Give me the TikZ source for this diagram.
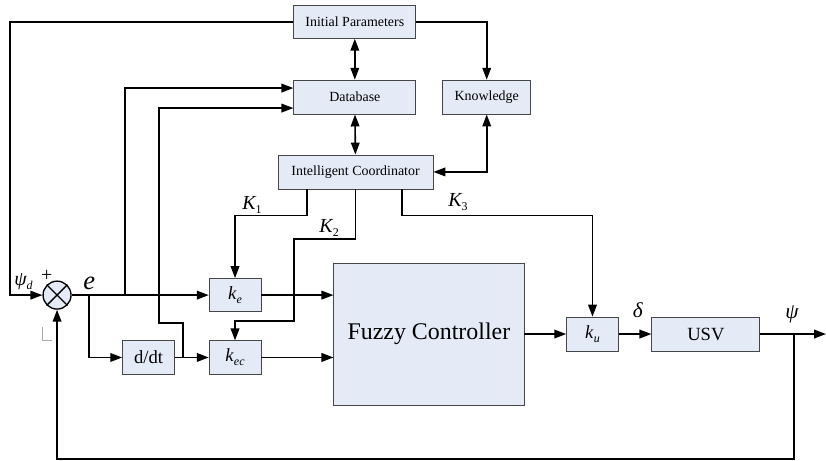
\documentclass[tikz,border=0pt]{standalone}
\usepackage{fontspec}
\setmainfont{Liberation Serif}
\usepackage{tikz}
\usetikzlibrary{arrows.meta,positioning,calc}
\definecolor{boxFill}{RGB}{228,235,246}
\definecolor{boxLine}{RGB}{70,70,70}
\definecolor{markGray}{RGB}{170,170,170}
\newcommand{\lowsub}[1]{\raisebox{-0.45ex}{\fontsize{9}{10}\selectfont #1}}

\begin{document}
\begin{tikzpicture}[
  blk/.style={rectangle,draw=boxLine,line width=0.6pt,fill=boxFill,
              inner sep=0pt,align=center,font=\fontsize{10.5}{12}\selectfont},
  gainblk/.style={blk,minimum width=1.37cm,minimum height=0.88cm,
                  font=\fontsize{14}{16}\selectfont},
  sumnode/.style={circle,draw=black,line width=1pt,fill=boxFill,
                  minimum size=0.74cm,inner sep=0pt},
  sig/.style={font=\fontsize{15}{17}\selectfont\itshape,inner sep=0pt},
  arrow/.style={-{Triangle[length=9pt,width=6.5pt]},line width=1.2pt},
  dblarrow/.style={{Triangle[length=9pt,width=6.5pt]}-{Triangle[length=9pt,width=6.5pt]},line width=1.2pt}
]
  \useasboundingbox (0,0) rectangle (21.86,-12.20);

  % supervisory level
  \node[blk,minimum width=3.23cm,minimum height=0.87cm](ip) at (9.39,-0.58) {Initial Parameters};
  \node[blk,minimum width=3.23cm,minimum height=0.90cm](db) at (9.39,-2.57) {Database};
  \node[blk,minimum width=2.33cm,minimum height=0.90cm,right=0.69cm of db](kn) {Knowledge};
  \node[blk,minimum width=4.10cm,minimum height=0.90cm](ic) at (9.41,-4.55) {Intelligent Coordinator};

  % control loop
  \node[sumnode](sum) at (1.51,-7.81) {};
  \draw[line width=1pt] (sum.north west) -- (sum.south east) (sum.north east) -- (sum.south west);
  \node[gainblk](ke) at (6.22,-7.81) {\textit{k}\lowsub{\textit{e}}};
  \node[gainblk](dt) at (3.93,-9.46) {d/dt};
  \node[gainblk](kec) at (6.22,-9.46) {\textit{k}\lowsub{\textit{ec}}};
  \node[blk,minimum width=5.03cm,minimum height=3.76cm,font=\fontsize{18}{20}\selectfont](fc) at (11.35,-8.84) {Fuzzy Controller};
  \node[gainblk,minimum height=0.90cm](ku) at (15.68,-8.84) {\textit{k}\lowsub{\textit{u}}};
  \node[blk,minimum width=2.86cm,minimum height=0.90cm,font=\fontsize{14}{16}\selectfont](usv) at (18.68,-8.84) {USV};

  % taps and turning points
  \coordinate (tapD) at (2.35,-7.81);
  \coordinate (tapE) at (3.31,-7.81);
  \coordinate (tapDt) at (4.84,-9.46);
  \coordinate (tapY) at (21.01,-8.84);
  \coordinate (out) at (21.86,-8.84);

  % supervisory links
  \draw[arrow] (ip.west) -| ([xshift=-0.85cm]sum.west) -- (sum.west);
  \draw[arrow] (ip.east) -| (kn.north);
  \draw[dblarrow] (ip) -- (db);
  \draw[dblarrow] (db) -- (ic);
  \draw[dblarrow] (ic.east) -| (kn.south);
  \draw[arrow] (tapE) |- ([yshift=0.24cm]db.west);
  \draw[arrow] (tapDt) |- (4.21,-8.55) |- ([yshift=-0.29cm]db.west);

  % scaling factors from the coordinator
  \draw[arrow] ([xshift=-1.29cm]ic.south) -- ++(0,-0.69) -| (ke.north);
  \draw[arrow] (ic.south) -- ++(0,-1.32) -| (7.78,-8.49) -| (kec.north);
  \draw[arrow] ([xshift=1.23cm]ic.south) -- ++(0,-0.69) -| (ku.north);

  % forward path
  \draw[arrow] (sum.east) -- (ke.west);
  \draw[arrow] (tapD) |- (dt.west);
  \draw[arrow] (dt.east) -- (kec.west);
  \draw[arrow] (ke.east) -- (ke.east -| fc.west);
  \draw[arrow] (kec.east) -- (kec.east -| fc.west);
  \draw[arrow] (fc.east) -- (ku.west);
  \draw[arrow] (ku.east) -- (usv.west);
  \draw[arrow] (usv.east) -- (out);
  \draw[arrow] (tapY) -- ++(0,-3.31) -| (sum.south);

  % signal labels
  \node[sig] at (0.62,-7.46) {ψ\lowsub{\textit{d}}};
  \node[sig,font=\fontsize{15}{17}\selectfont] at (1.24,-7.30) {+};
  \node[sig,font=\fontsize{20}{22}\selectfont\itshape] at (2.36,-7.50) {e};
  \node[sig] at (6.67,-5.42) {K\lowsub{\upshape 1}};
  \node[sig] at (8.71,-6.03) {K\lowsub{\upshape 2}};
  \node[sig] at (12.12,-5.35) {K\lowsub{\upshape 3}};
  \node[sig,font=\fontsize{16}{18}\selectfont\itshape] at (16.88,-8.20) {δ};
  \node[sig,font=\fontsize{16}{18}\selectfont\itshape] at (20.96,-8.31) {ψ};
  \draw[markGray,line width=0.6pt] (1.11,-8.65) -- (1.11,-9.0) -- (1.38,-9.0);
\end{tikzpicture}
\end{document}
